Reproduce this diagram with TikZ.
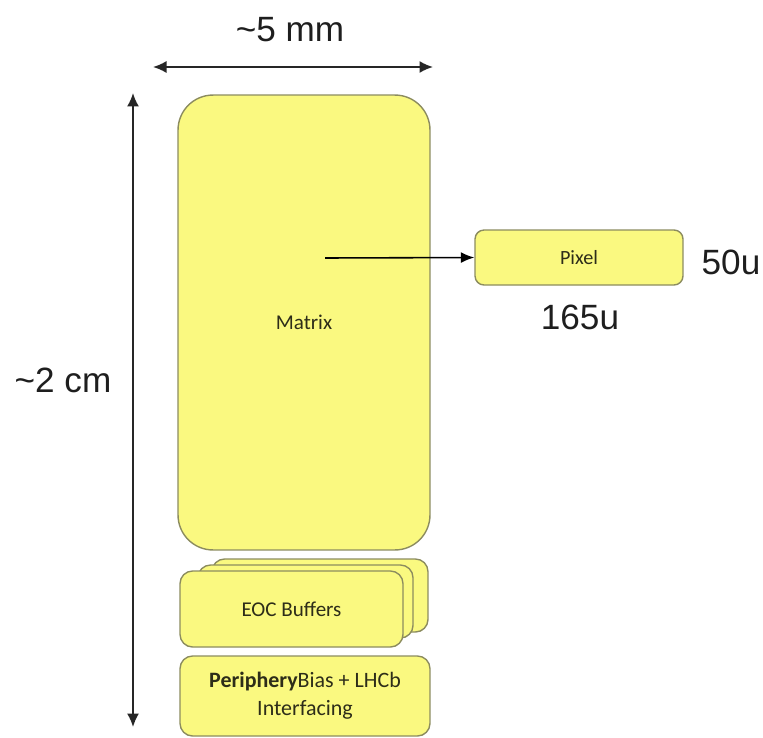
\documentclass[tikz,border=0pt]{standalone}
\usepackage{fontspec}
\setmainfont{Carlito}
\newfontfamily\dimfont{Liberation Sans}
\usetikzlibrary{positioning,arrows.meta}
\definecolor{chipfill}{RGB}{250,249,128}
\definecolor{chipline}{RGB}{140,140,95}
\definecolor{chiptext}{RGB}{45,45,25}
\definecolor{dimtext}{RGB}{30,30,30}
\tikzset{
  chipblk/.style={draw=chipline, fill=chipfill, line width=0.8pt, inner sep=0pt, rounded corners=0.25cm, text=chiptext},
  dimarrow/.style={draw=black!85, line width=0.9pt, {Latex[length=0.27cm,width=0.24cm]}-{Latex[length=0.27cm,width=0.24cm]}},
  dimlbl/.style={font=\dimfont\fontsize{20}{22}\selectfont, text=dimtext, inner sep=0pt}
}

\begin{document}
\begin{tikzpicture}
\begin{scope}[x=0.02cm,y=-0.02cm]
\useasboundingbox (0,0) rectangle (763,737);

% main matrix block
\draw(304,322.5) node[chipblk, rounded corners=0.7cm, minimum width=5.04cm, minimum height=9.1cm, font=\fontsize{12}{14}\selectfont] (matrix) {Matrix};

% one pixel
\draw(579,257.5) node[chipblk, rounded corners=0.18cm, minimum width=4.16cm, minimum height=1.1cm, font=\fontsize{11.5}{13}\selectfont] (pixel) {Pixel};
\coordinate (psrc) at (325,258);
\draw[line width=0.9pt, -{Latex[length=0.27cm,width=0.22cm]}] (psrc) -- (pixel.west);

% end of column buffers (stacked)
\draw(320,595.5) node[chipblk, minimum width=4.32cm, minimum height=1.46cm] (eoc3) {};
\draw(305.5,601.5) node[chipblk, minimum width=4.3cm, minimum height=1.46cm] (eoc2) {};
\draw(291.5,609) node[chipblk, minimum width=4.46cm, minimum height=1.52cm, font=\fontsize{12}{14}\selectfont] (eoc1) {EOC Buffers};

% periphery
\draw(305,696) node[chipblk, minimum width=5.0cm, minimum height=1.6cm, align=center, font=\fontsize{12.5}{16}\selectfont] (periph) {\textbf{Periphery}Bias + LHCb\\Interfacing};

% dimensions
\coordinate (wl) at (153,67);
\coordinate (wr) at (433,67);
\coordinate (ht) at (133,93);
\coordinate (hb) at (133,727);
\draw[dimarrow] (wl) -- (wr);
\draw[dimarrow] (ht) -- (hb);
\draw(290,30) node[dimlbl] (wlbl) {\textasciitilde5 mm};
\draw(63,380) node[dimlbl] (hlbl) {\textasciitilde2 cm};
\draw(731,262) node[dimlbl] (pxh) {50u};
\draw(580,317) node[dimlbl] (pxw) {165u};
\end{scope}
\end{tikzpicture}
\end{document}
